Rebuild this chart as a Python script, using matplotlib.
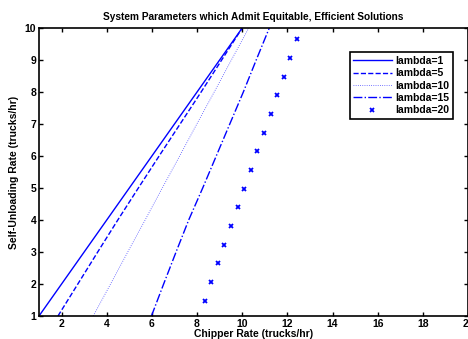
import matplotlib.pyplot as plt

# Data
y_line = [1, 2, 3, 4, 5, 6, 7, 8, 9, 10]
x_l1 = [1, 2, 3, 4, 5, 6, 7, 8, 9, 10]
x_l5 = [1.84, 2.72, 3.60, 4.49, 5.40, 6.32, 7.25, 8.18, 9.09, 10.0]
x_l10 = [3.40, 4.17, 4.93, 5.70, 6.46, 7.23, 7.99, 8.76, 9.52, 10.29]
x_l15 = [5.98, 6.52, 7.07, 7.63, 8.25, 8.85, 9.45, 10.05, 10.62, 11.20]
x_l20 = [8.33, 8.62, 8.92, 9.21, 9.51, 9.80, 10.10, 10.39, 10.67, 10.98,
         11.26, 11.56, 11.85, 12.13, 12.43]
y_l20 = [1.48, 2.06, 2.65, 3.23, 3.81, 4.40, 4.98, 5.56, 6.15, 6.73,
         7.31, 7.90, 8.48, 9.06, 9.66]
labels = ["lambda=1", "lambda=5", "lambda=10", "lambda=15", "lambda=20"]

plt.rcParams['font.family'] = ['Liberation Sans', 'DejaVu Sans']
plt.rcParams['font.weight'] = 'bold'

fig = plt.figure(figsize=(4.68, 3.39), dpi=100)
ax = fig.add_axes([39 / 468, 23 / 339, 429 / 468, 288 / 339])

blue = '#0000ff'
ax.plot(x_l1, y_line, '-', color=blue, lw=1.0, label=labels[0])
ax.plot(x_l5, y_line, '--', color=blue, lw=1.0, label=labels[1])
ax.plot(x_l10, y_line, ':', color=blue, lw=0.6, alpha=0.7, label=labels[2])
ax.plot(x_l15, y_line, '-.', color=blue, lw=1.0, label=labels[3])
ax.plot(x_l20, y_l20, 'x', color=blue, ms=3.5, mew=1.3, label=labels[4])

ax.set_xlim(1, 20)
ax.set_ylim(1, 10)
ax.set_xticks(range(2, 21, 2))
ax.set_yticks(range(1, 11))
ax.tick_params(direction='in', top=True, right=True, labelsize=7.5, length=3,
               width=1, pad=2)
for s in ax.spines.values():
    s.set_linewidth(1.2)

ax.set_title("System Parameters which Admit Equitable, Efficient Solutions",
             fontsize=7.25, fontweight='bold', pad=6)
ax.set_xlabel("Chipper Rate (trucks/hr)", fontsize=7.5, fontweight='bold',
              labelpad=0)
ax.set_ylabel("Self-Unloading Rate (trucks/hr)", fontsize=7.5,
              fontweight='bold', labelpad=4)

leg = ax.legend(loc='upper right', bbox_to_anchor=(0.965, 0.915), fontsize=7.5,
                numpoints=1, fancybox=False, framealpha=1, edgecolor='black',
                handlelength=3.7, handletextpad=0.35, borderpad=0.35,
                labelspacing=0.22, borderaxespad=0)
leg.get_frame().set_linewidth(1.2)

fig.savefig("out.png", dpi=100)
